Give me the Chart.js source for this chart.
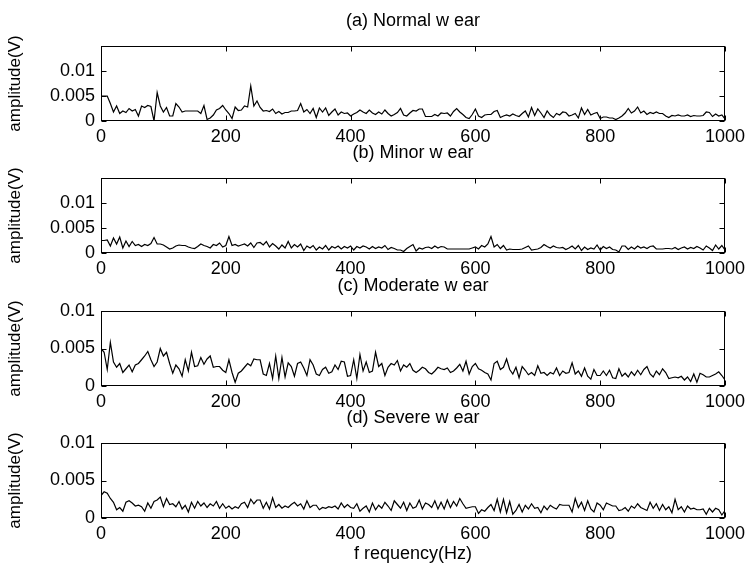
<!DOCTYPE html>
<html>
<head>
<meta charset="utf-8">
<title>wear spectra</title>
<script src="https://cdn.jsdelivr.net/npm/chart.js@4.4.0/dist/chart.umd.min.js"></script>
<style>
  body { margin: 0; background: #fff; }
  #wrap { position: relative; width: 750px; height: 570px; }
  #wrap canvas { position: absolute; left: 0; }
</style>
</head>
<body>
<div id="wrap"></div>
<script>
// frequency axis, 5 Hz bins
var freqHz = [];
for (var f = 0; f <= 1000; f += 5) freqHz.push(f);

var xTickValues = [0, 200, 400, 600, 800, 1000];
var yTickValues = [0, 0.005, 0.01];
var panelTitles = ["(a) Normal w ear", "(b) Minor w ear", "(c) Moderate w ear", "(d) Severe w ear"];
var yMaxValues = [0.015, 0.015, 0.01, 0.01];

// amplitude (V), one value per bin
var normalWear = [
  0.0050,0.0050,0.0050,0.0035,0.0018,0.0030,0.0015,0.0020,0.0017,0.0025,
  0.0020,0.0023,0.0010,0.0030,0.0027,0.0031,0.0029,0.0000,0.0057,0.0030,
  0.0018,0.0027,0.0010,0.0010,0.0035,0.0028,0.0018,0.0020,0.0020,0.0020,
  0.0020,0.0020,0.0015,0.0031,0.0003,0.0006,0.0012,0.0022,0.0025,0.0031,
  0.0022,0.0015,0.0005,0.0028,0.0021,0.0022,0.0030,0.0028,0.0070,0.0030,
  0.0040,0.0027,0.0020,0.0021,0.0019,0.0024,0.0015,0.0019,0.0014,0.0017,
  0.0017,0.0020,0.0020,0.0021,0.0035,0.0018,0.0023,0.0015,0.0025,0.0007,
  0.0026,0.0018,0.0026,0.0011,0.0018,0.0024,0.0012,0.0018,0.0015,0.0016,
  0.0010,0.0014,0.0017,0.0022,0.0018,0.0015,0.0022,0.0016,0.0013,0.0018,
  0.0014,0.0022,0.0015,0.0010,0.0013,0.0017,0.0025,0.0012,0.0010,0.0016,
  0.0021,0.0020,0.0024,0.0024,0.0009,0.0009,0.0009,0.0013,0.0010,0.0016,
  0.0015,0.0016,0.0010,0.0019,0.0025,0.0018,0.0013,0.0007,0.0005,0.0013,
  0.0024,0.0010,0.0007,0.0012,0.0013,0.0013,0.0019,0.0021,0.0007,0.0010,
  0.0012,0.0010,0.0014,0.0011,0.0009,0.0015,0.0020,0.0008,0.0027,0.0011,
  0.0024,0.0016,0.0007,0.0020,0.0012,0.0007,0.0015,0.0012,0.0018,0.0017,
  0.0010,0.0012,0.0015,0.0006,0.0026,0.0013,0.0023,0.0012,0.0015,0.0017,
  0.0005,0.0008,0.0008,0.0006,0.0006,0.0003,0.0006,0.0010,0.0016,0.0025,
  0.0016,0.0020,0.0028,0.0016,0.0020,0.0013,0.0017,0.0015,0.0018,0.0015,
  0.0015,0.0010,0.0007,0.0011,0.0010,0.0012,0.0010,0.0010,0.0012,0.0009,
  0.0011,0.0010,0.0010,0.0011,0.0018,0.0017,0.0009,0.0014,0.0010,0.0012,
  0.0004
];

var minorWear = [
  0.0025,0.0025,0.0026,0.0014,0.0030,0.0018,0.0032,0.0010,0.0024,0.0013,
  0.0023,0.0015,0.0017,0.0013,0.0017,0.0015,0.0019,0.0031,0.0018,0.0018,
  0.0016,0.0012,0.0008,0.0010,0.0014,0.0016,0.0015,0.0015,0.0012,0.0010,
  0.0009,0.0013,0.0018,0.0015,0.0013,0.0010,0.0017,0.0015,0.0020,0.0012,
  0.0015,0.0033,0.0015,0.0017,0.0014,0.0016,0.0018,0.0014,0.0020,0.0011,
  0.0020,0.0021,0.0016,0.0023,0.0012,0.0019,0.0014,0.0008,0.0016,0.0010,
  0.0023,0.0010,0.0017,0.0012,0.0018,0.0005,0.0014,0.0010,0.0015,0.0006,
  0.0012,0.0008,0.0015,0.0006,0.0013,0.0010,0.0014,0.0008,0.0013,0.0010,
  0.0014,0.0006,0.0013,0.0010,0.0014,0.0012,0.0008,0.0013,0.0009,0.0012,
  0.0010,0.0015,0.0007,0.0011,0.0009,0.0006,0.0006,0.0003,0.0009,0.0013,
  0.0017,0.0004,0.0010,0.0008,0.0011,0.0012,0.0009,0.0014,0.0010,0.0013,
  0.0012,0.0008,0.0008,0.0008,0.0008,0.0008,0.0008,0.0008,0.0008,0.0010,
  0.0012,0.0008,0.0015,0.0012,0.0018,0.0033,0.0012,0.0017,0.0009,0.0015,
  0.0006,0.0008,0.0007,0.0007,0.0007,0.0008,0.0011,0.0014,0.0006,0.0007,
  0.0008,0.0011,0.0017,0.0013,0.0010,0.0014,0.0011,0.0010,0.0011,0.0007,
  0.0010,0.0014,0.0008,0.0015,0.0005,0.0012,0.0007,0.0010,0.0008,0.0016,
  0.0006,0.0013,0.0009,0.0012,0.0007,0.0006,0.0002,0.0014,0.0014,0.0007,
  0.0012,0.0008,0.0014,0.0010,0.0012,0.0009,0.0013,0.0014,0.0008,0.0008,
  0.0008,0.0009,0.0009,0.0008,0.0011,0.0007,0.0010,0.0012,0.0008,0.0011,
  0.0009,0.0013,0.0010,0.0006,0.0014,0.0010,0.0005,0.0016,0.0008,0.0015,
  0.0006
];

var moderateWear = [
  0.0050,0.0045,0.0022,0.0058,0.0032,0.0025,0.0030,0.0018,0.0023,0.0028,
  0.0019,0.0028,0.0030,0.0035,0.0040,0.0046,0.0035,0.0026,0.0032,0.0050,
  0.0040,0.0045,0.0030,0.0017,0.0028,0.0023,0.0013,0.0035,0.0020,0.0045,
  0.0026,0.0027,0.0038,0.0029,0.0036,0.0040,0.0025,0.0026,0.0026,0.0021,
  0.0018,0.0035,0.0018,0.0005,0.0017,0.0020,0.0025,0.0030,0.0027,0.0036,
  0.0035,0.0035,0.0016,0.0014,0.0030,0.0010,0.0040,0.0010,0.0038,0.0012,
  0.0031,0.0026,0.0013,0.0030,0.0032,0.0024,0.0014,0.0035,0.0028,0.0016,
  0.0014,0.0022,0.0025,0.0017,0.0019,0.0028,0.0022,0.0033,0.0032,0.0013,
  0.0014,0.0035,0.0010,0.0042,0.0020,0.0032,0.0018,0.0020,0.0045,0.0026,
  0.0030,0.0014,0.0025,0.0030,0.0028,0.0034,0.0020,0.0028,0.0025,0.0030,
  0.0021,0.0018,0.0021,0.0025,0.0023,0.0018,0.0016,0.0020,0.0025,0.0023,
  0.0022,0.0024,0.0018,0.0020,0.0024,0.0029,0.0020,0.0033,0.0016,0.0026,
  0.0030,0.0023,0.0021,0.0018,0.0016,0.0008,0.0030,0.0033,0.0022,0.0025,
  0.0036,0.0022,0.0016,0.0025,0.0011,0.0026,0.0021,0.0015,0.0018,0.0014,
  0.0027,0.0017,0.0018,0.0014,0.0018,0.0016,0.0024,0.0014,0.0020,0.0017,
  0.0018,0.0031,0.0016,0.0020,0.0013,0.0024,0.0013,0.0009,0.0022,0.0014,
  0.0014,0.0020,0.0014,0.0021,0.0011,0.0010,0.0023,0.0013,0.0017,0.0012,
  0.0019,0.0014,0.0021,0.0015,0.0022,0.0026,0.0016,0.0012,0.0020,0.0015,
  0.0023,0.0018,0.0010,0.0011,0.0012,0.0011,0.0013,0.0008,0.0012,0.0006,
  0.0016,0.0005,0.0017,0.0015,0.0012,0.0012,0.0014,0.0016,0.0019,0.0014,
  0.0008
];

var severeWear = [
  0.0030,0.0035,0.0033,0.0026,0.0021,0.0011,0.0014,0.0009,0.0021,0.0023,
  0.0020,0.0016,0.0017,0.0015,0.0009,0.0020,0.0013,0.0022,0.0024,0.0028,
  0.0015,0.0026,0.0018,0.0019,0.0015,0.0022,0.0012,0.0017,0.0008,0.0021,
  0.0013,0.0022,0.0016,0.0020,0.0014,0.0019,0.0016,0.0022,0.0013,0.0019,
  0.0013,0.0016,0.0012,0.0015,0.0013,0.0019,0.0021,0.0014,0.0025,0.0019,
  0.0024,0.0024,0.0013,0.0021,0.0012,0.0027,0.0014,0.0018,0.0013,0.0016,
  0.0014,0.0018,0.0021,0.0016,0.0019,0.0012,0.0023,0.0014,0.0017,0.0017,
  0.0011,0.0014,0.0013,0.0015,0.0014,0.0016,0.0012,0.0020,0.0014,0.0018,
  0.0014,0.0013,0.0019,0.0009,0.0013,0.0016,0.0008,0.0020,0.0011,0.0017,
  0.0013,0.0021,0.0016,0.0010,0.0023,0.0018,0.0013,0.0021,0.0010,0.0020,
  0.0013,0.0015,0.0024,0.0012,0.0020,0.0018,0.0014,0.0023,0.0012,0.0021,
  0.0012,0.0024,0.0014,0.0022,0.0016,0.0026,0.0019,0.0013,0.0014,0.0015,
  0.0015,0.0006,0.0011,0.0009,0.0014,0.0018,0.0010,0.0025,0.0008,0.0025,
  0.0007,0.0022,0.0005,0.0010,0.0018,0.0008,0.0017,0.0012,0.0019,0.0013,
  0.0014,0.0007,0.0016,0.0011,0.0017,0.0014,0.0012,0.0018,0.0017,0.0017,
  0.0017,0.0008,0.0026,0.0014,0.0021,0.0010,0.0023,0.0012,0.0008,0.0020,
  0.0017,0.0011,0.0020,0.0018,0.0016,0.0016,0.0010,0.0011,0.0014,0.0009,
  0.0016,0.0013,0.0019,0.0014,0.0012,0.0010,0.0021,0.0013,0.0019,0.0010,
  0.0018,0.0011,0.0015,0.0007,0.0025,0.0011,0.0015,0.0008,0.0016,0.0012,
  0.0013,0.0011,0.0011,0.0012,0.0005,0.0013,0.0008,0.0013,0.0011,0.0004,
  0.0010
];

var seriesList = [normalWear, minorWear, moderateWear, severeWear];

// layout of the four stacked axes (page pixels)
var plotLeft = 101, plotRight = 727, plotH = 75;
var plotTops = [46, 178, 311, 443];
var titleSpace = 36;
var fontFamily = "'Liberation Sans', Arial, Helvetica, sans-serif";

// matlab style box with inward ticks on all four sides
var boxPlugin = {
  id: "matlabBox",
  afterDatasetsDraw: function(chart) {
    var ctx = chart.ctx, a = chart.chartArea;
    var xs = chart.scales.x, ys = chart.scales.y;
    var tl = 5;
    ctx.save();
    ctx.strokeStyle = "#000";
    ctx.lineWidth = 1;
    var l = Math.round(a.left) + 0.5, r = Math.round(a.right) - 0.5;
    var t = Math.round(a.top) + 0.5, b = Math.round(a.bottom) - 0.5;
    ctx.strokeRect(l, t, r - l, b - t);
    ctx.beginPath();
    xs.ticks.forEach(function(tk) {
      var px = Math.round(xs.getPixelForValue(tk.value)) + 0.5;
      ctx.moveTo(px, b); ctx.lineTo(px, b - tl);
      ctx.moveTo(px, t); ctx.lineTo(px, t + tl);
    });
    ys.ticks.forEach(function(tk) {
      var py = Math.round(ys.getPixelForValue(tk.value)) + 0.5;
      ctx.moveTo(l, py); ctx.lineTo(l + tl, py);
      ctx.moveTo(r, py); ctx.lineTo(r - tl, py);
    });
    ctx.stroke();
    ctx.restore();
  }
};

var wrap = document.getElementById("wrap");

for (var i = 0; i < 4; i++) {
  var last = (i == 3);
  var xAxisH = last ? 48 : 28;
  var canvas = document.createElement("canvas");
  canvas.width = 750;
  canvas.height = titleSpace + plotH + xAxisH;
  canvas.style.top = (plotTops[i] - titleSpace) + "px";
  wrap.appendChild(canvas);

  var vals = seriesList[i];
  var points = freqHz.map(function(f, k) { return { x: f, y: vals[k] }; });

  new Chart(canvas, {
    type: "line",
    data: {
      datasets: [{
        data: points,
        borderColor: "#000",
        borderWidth: 1.2,
        pointRadius: 0,
        tension: 0,
        fill: false
      }]
    },
    options: {
      responsive: false,
      animation: false,
      devicePixelRatio: 1,
      layout: { padding: { left: 0, right: 750 - plotRight, top: 0, bottom: 0 } },
      plugins: {
        legend: { display: false },
        tooltip: { enabled: false },
        title: {
          display: true,
          text: panelTitles[i],
          fullSize: false,
          color: "#000",
          font: { family: fontFamily, size: 18, weight: "normal" },
          padding: { top: 0, bottom: 14.4 }
        }
      },
      scales: {
        x: {
          type: "linear",
          min: 0,
          max: 1000,
          afterBuildTicks: function(s) { s.ticks = xTickValues.map(function(v) { return { value: v }; }); },
          afterFit: (function(h) { return function(s) { s.height = h; }; })(xAxisH),
          grid: { display: false, drawTicks: false },
          border: { display: false },
          ticks: {
            color: "#000",
            autoSkip: false,
            maxRotation: 0,
            padding: 5,
            font: { family: fontFamily, size: 18 },
            callback: function(v) { return String(v); }
          },
          title: {
            display: last,
            text: "f requency(Hz)",
            color: "#000",
            font: { family: fontFamily, size: 18 },
            padding: { top: 0, bottom: 1 }
          }
        },
        y: {
          min: 0,
          max: yMaxValues[i],
          afterBuildTicks: function(s) { s.ticks = yTickValues.map(function(v) { return { value: v }; }); },
          afterFit: function(s) { s.width = plotLeft; },
          grid: { display: false, drawTicks: false },
          border: { display: false },
          ticks: {
            color: "#000",
            padding: 6,
            font: { family: fontFamily, size: 18 },
            callback: function(v) { return String(v); }
          },
          title: {
            display: true,
            text: "amplitude(V)",
            color: "#000",
            font: { family: fontFamily, size: 17 },
            padding: { top: 5, bottom: 0 }
          }
        }
      }
    },
    plugins: [boxPlugin]
  });
}
</script>
</body>
</html>
